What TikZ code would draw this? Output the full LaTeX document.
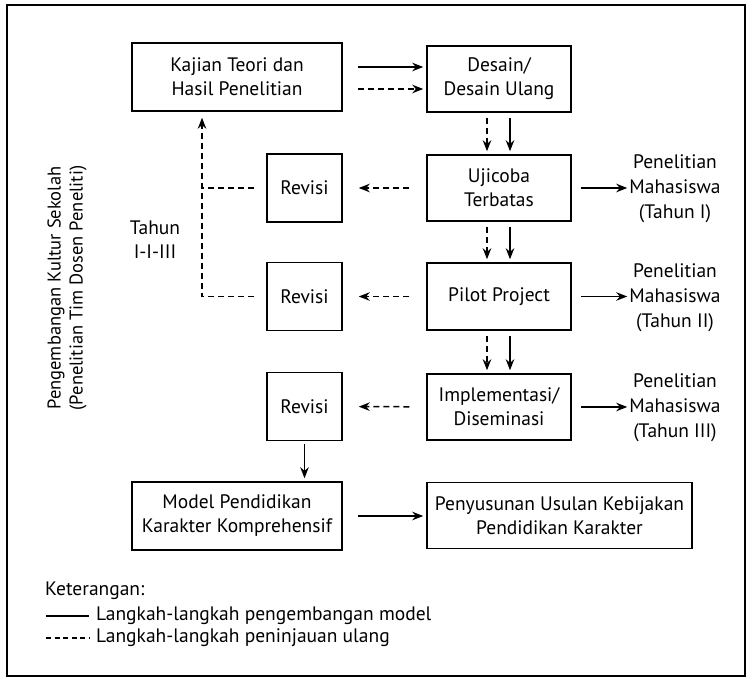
\documentclass[tikz,border=0pt]{standalone}
\usepackage{fontspec}
\setmainfont{PT Sans}
\usetikzlibrary{arrows.meta}

\begin{document}
\begin{tikzpicture}[x=1pt,y=-1pt,
		every node/.style={font=\fontsize{19.5}{24}\selectfont},
		kotak/.style={draw, line width=1.5pt, align=center, inner sep=2pt},
		panah/.style={line width=1.5pt, -{Stealth[length=11pt,width=8.5pt]}},
		putus/.style={panah, dash pattern=on 6pt off 4pt},
		teks/.style={align=center, inner sep=2pt}]
	\useasboundingbox (0,0) rectangle (750,679);
	\draw[line width=1.5pt] (7,5) rectangle (745,676);
	% kotak utama
	\node[kotak, minimum width=210pt, minimum height=68pt] (kajian) at (237,77) {Kajian Teori dan\\Hasil Penelitian};
	\node[kotak, minimum width=144pt, minimum height=66pt] (desain) at (499,79) {Desain/\\Desain Ulang};
	\node[kotak, minimum width=144pt, minimum height=66pt] (ujicoba) at (499,188) {Ujicoba\\Terbatas};
	\node[kotak, minimum width=144pt, minimum height=67pt] (pilot) at (499,296.5) {Pilot Project};
	\node[kotak, minimum width=144pt, minimum height=66pt] (implementasi) at (499,407) {Implementasi/\\Diseminasi};
	\node[kotak, minimum width=75pt, minimum height=68pt] (revisi1) at (304.5,188) {Revisi};
	\node[kotak, minimum width=75pt, minimum height=68pt] (revisi2) at (304.5,296.5) {Revisi};
	\node[kotak, minimum width=75pt, minimum height=68pt] (revisi3) at (304.5,406.5) {Revisi};
	\node[kotak, minimum width=210pt, minimum height=68pt] (model) at (237,516) {Model Pendidikan\\Karakter Komprehensif};
	\node[kotak, minimum width=265pt, minimum height=66pt] (penyusunan) at (559.5,515.5) {Penyusunan Usulan Kebijakan\\Pendidikan Karakter};
	% teks samping
	\node[teks, font=\fontsize{19.5}{25}\selectfont] (mhs1) at (675,189) {Penelitian\\Mahasiswa\\(Tahun I)};
	\node[teks, font=\fontsize{19.5}{25}\selectfont] (mhs2) at (675,298) {Penelitian\\Mahasiswa\\(Tahun II)};
	\node[teks, font=\fontsize{19.5}{25}\selectfont] (mhs3) at (675,408) {Penelitian\\Mahasiswa\\(Tahun III)};
	\node[teks] (tahun) at (155,240) {Tahun\\I-I-III};
	\node[teks, rotate=90, font=\fontsize{18.5}{22}\selectfont] (kultur) at (67,288) {Pengembangan Kultur Sekolah\\(Penelitian Tim Dosen Peneliti)};
	\coordinate (balik) at ([xshift=-35pt, yshift=-6pt]kajian.south);
	% panah langkah pengembangan
	\draw[panah, shorten <=15pt, shorten >=3pt] ([yshift=10pt]kajian.east) -- ([yshift=10pt]kajian.east -| desain.west);
	\draw[putus, shorten <=15pt, shorten >=3pt] ([yshift=-12pt]kajian.east) -- ([yshift=-12pt]kajian.east -| desain.west);
	\draw[putus, shorten <=5pt, shorten >=3pt] ([xshift=-12pt]desain.south) -- ([xshift=-12pt]ujicoba.north);
	\draw[panah, shorten <=5pt, shorten >=3pt] ([xshift=11pt]desain.south) -- ([xshift=11pt]ujicoba.north);
	\draw[putus, shorten <=5pt, shorten >=3pt] ([xshift=-12pt]ujicoba.south) -- ([xshift=-12pt]pilot.north);
	\draw[panah, shorten <=5pt, shorten >=3pt] ([xshift=11pt]ujicoba.south) -- ([xshift=11pt]pilot.north);
	\draw[putus, shorten <=5pt, shorten >=3pt] ([xshift=-12pt]pilot.south) -- ([xshift=-12pt]implementasi.north);
	\draw[panah, shorten <=5pt, shorten >=3pt] ([xshift=11pt]pilot.south) -- ([xshift=11pt]implementasi.north);
	\draw[panah, shorten <=9pt] (ujicoba.east) -- (ujicoba.east -| mhs1.west);
	\draw[panah, shorten <=9pt] (pilot.east) -- (pilot.east -| mhs2.west);
	\draw[panah, shorten <=9pt] (implementasi.east) -- (implementasi.east -| mhs3.west);
	\draw[panah, shorten <=3pt, shorten >=3pt] (revisi3.south) -- (revisi3.south |- model.north);
	\draw[panah, shorten <=15pt, shorten >=3pt] (model.east) -- (model.east -| penyusunan.west);
	% panah peninjauan ulang
	\draw[putus, shorten <=17pt, shorten >=16pt] (ujicoba) -- (revisi1);
	\draw[putus, shorten <=17pt, shorten >=16pt] (pilot) -- (revisi2);
	\draw[putus, shorten <=17pt, shorten >=16pt] (implementasi) -- (revisi3);
	\draw[putus, shorten <=12pt] (revisi2.west) -| (balik);
	\draw[line width=1.5pt, dash pattern=on 6pt off 4pt, shorten <=12pt] (revisi1.west) -- (revisi1.west -| balik);
	% keterangan
	\node[anchor=west, inner sep=0pt] (ket) at (45,591) {Keterangan:};
	\draw[line width=1.5pt] (46,616) -- (89,616);
	\node[anchor=west, inner sep=0pt] (ket1) at (96,616) {Langkah-langkah pengembangan model};
	\draw[line width=1.5pt, dash pattern=on 5pt off 3.5pt] (46,638) -- (89,638);
	\node[anchor=west, inner sep=0pt] (ket2) at (96,638) {Langkah-langkah peninjauan ulang};
\end{tikzpicture}
\end{document}
